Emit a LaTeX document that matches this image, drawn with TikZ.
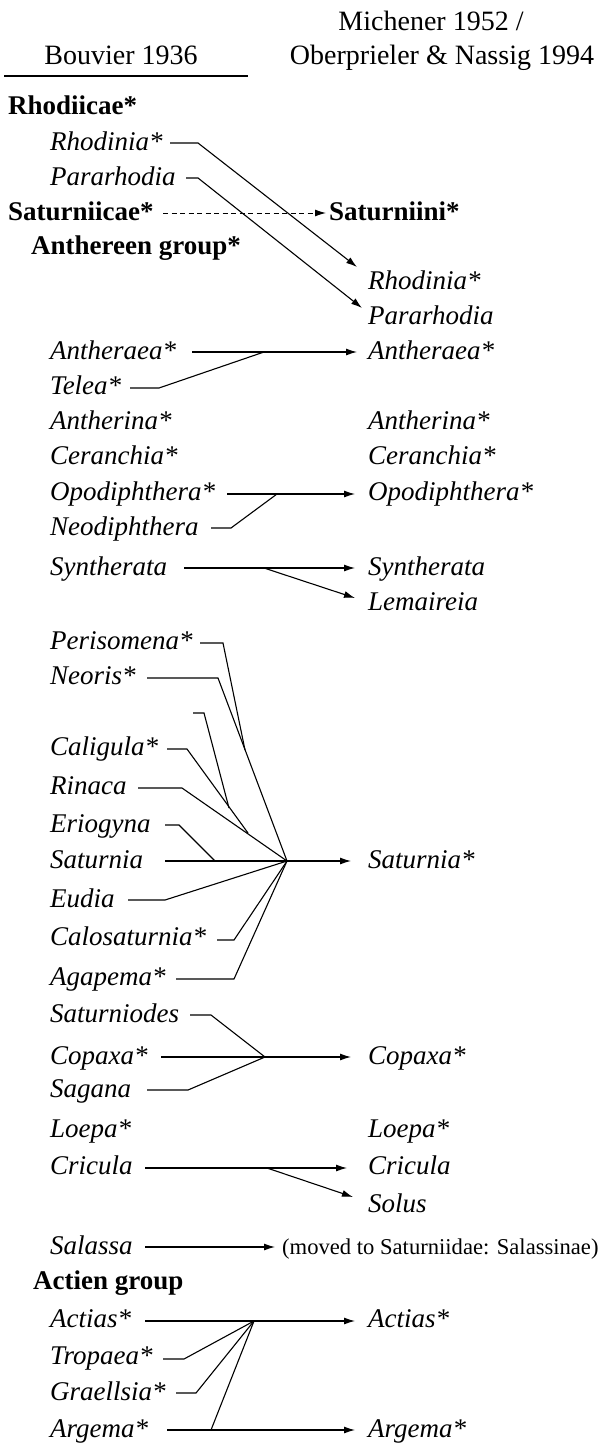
\documentclass[tikz,border=0pt]{standalone}
\usepackage{fontspec}
\setmainfont{Liberation Serif}
\usetikzlibrary{arrows.meta}
\begin{document}
\begin{tikzpicture}[x=1pt,y=-1pt,
  lbl/.style={anchor=base west, inner sep=0pt, font=\fontsize{27}{30}\selectfont\itshape},
  grp/.style={anchor=base west, inner sep=0pt, font=\fontsize{27}{30}\selectfont\bfseries},
  hdr/.style={anchor=base, inner sep=0pt, font=\fontsize{28}{30}\selectfont},
  note/.style={anchor=base west, inner sep=0pt, font=\fontsize{22.6}{26}\selectfont},
  con/.style={line width=1.1pt},
  arr/.style={line width=1.1pt, -{Latex[length=11pt,width=7pt]}},
  dsh/.style={line width=1pt, dash pattern=on 5pt off 3.5pt, -{Latex[length=11pt,width=7pt]}},
]
\useasboundingbox (0,0) rectangle (603,1445);
% headers
\node[hdr] (h1) at (431,31) {Michener 1952 /};
\node[hdr] (h2) at (121,64) {Bouvier 1936};
\node[hdr] (h3) at (442,64) {Oberprieler \& Nassig 1994};
\coordinate (ruleA) at (4,76);
\coordinate (ruleB) at (248,76);
\draw[line width=1.2pt] (ruleA) -- (ruleB);
% left column
\node[grp] (rhodiicae) at (8,114) {Rhodiicae*};
\node[lbl] (rhodL) at (50,150) {Rhodinia*};
\node[lbl] (pararL) at (50,185) {Pararhodia};
\node[grp] (saturniicae) at (8,220) {Saturniicae*};
\node[grp] (anthereen) at (31,254) {Anthereen group*};
\node[lbl] (antheraeaL) at (50,359) {Antheraea*};
\node[lbl] (telea) at (50,394) {Telea*};
\node[lbl] (antherinaL) at (50,429) {Antherina*};
\node[lbl] (ceranchiaL) at (50,464) {Ceranchia*};
\node[lbl] (opoL) at (50,500) {Opodiphthera*};
\node[lbl] (neodi) at (50,535) {Neodiphthera};
\node[lbl] (synL) at (50,575) {Syntherata};
\node[lbl] (perisomena) at (50,649) {Perisomena*};
\node[lbl] (neoris) at (50,684) {Neoris*};
\node[lbl] (caligula) at (50,755) {Caligula*};
\node[lbl] (rinaca) at (50,794) {Rinaca};
\node[lbl] (eriogyna) at (50,832) {Eriogyna};
\node[lbl] (saturniaL) at (50,868) {Saturnia};
\node[lbl] (eudia) at (50,907) {Eudia};
\node[lbl] (calosat) at (50,945) {Calosaturnia*};
\node[lbl] (agapema) at (50,985) {Agapema*};
\node[lbl] (saturniodes) at (50,1022) {Saturniodes};
\node[lbl] (copaxaL) at (50,1064) {Copaxa*};
\node[lbl] (sagana) at (50,1097) {Sagana};
\node[lbl] (loepaL) at (50,1137) {Loepa*};
\node[lbl] (criculaL) at (50,1174) {Cricula};
\node[lbl] (salassa) at (50,1254) {Salassa};
\node[grp] (actien) at (33,1289) {Actien group};
\node[lbl] (actiasL) at (50,1327) {Actias*};
\node[lbl] (tropaea) at (50,1364) {Tropaea*};
\node[lbl] (graellsia) at (50,1400) {Graellsia*};
\node[lbl] (argemaL) at (50,1437) {Argema*};
% right column
\node[grp] (saturniini) at (329,220) {Saturniini*};
\node[lbl] (rhodR) at (368,289) {Rhodinia*};
\node[lbl] (pararR) at (368,324) {Pararhodia};
\node[lbl] (antheraeaR) at (368,359) {Antheraea*};
\node[lbl] (antherinaR) at (368,429) {Antherina*};
\node[lbl] (ceranchiaR) at (368,464) {Ceranchia*};
\node[lbl] (opoR) at (368,500) {Opodiphthera*};
\node[lbl] (synR) at (368,575) {Syntherata};
\node[lbl] (lemaireia) at (368,610) {Lemaireia};
\node[lbl] (saturniaR) at (368,868) {Saturnia*};
\node[lbl] (copaxaR) at (368,1064) {Copaxa*};
\node[lbl] (loepaR) at (368,1137) {Loepa*};
\node[lbl] (criculaR) at (368,1174) {Cricula};
\node[lbl] (solus) at (368,1212) {Solus};
\node[note] (moved) at (282,1254) {(moved to Saturniidae: Salassinae)};
\node[lbl] (actiasR) at (368,1327) {Actias*};
\node[lbl] (argemaR) at (368,1437) {Argema*};
% connector points
\coordinate (rhS) at (170,143); \coordinate (rhK) at (198,143); \coordinate (rhT) at (357,267);
\coordinate (paS) at (186,178); \coordinate (paK) at (198,178); \coordinate (paT) at (362,308);
\coordinate (saS) at (163,213); \coordinate (saT) at (326,213);
\coordinate (anS) at (192,352); \coordinate (anJ) at (264,352); \coordinate (anT) at (357,352);
\coordinate (teS) at (130,388); \coordinate (teK) at (159,388);
\coordinate (opS) at (227,494); \coordinate (opJ) at (277,494); \coordinate (opT) at (355,494);
\coordinate (neS) at (211,528); \coordinate (neK) at (231,528);
\coordinate (syS) at (184,568); \coordinate (syJ) at (264,568); \coordinate (syT) at (355,568); \coordinate (leT) at (355,598);
\coordinate (hub) at (287,861);
\coordinate (stS) at (165,861); \coordinate (stT) at (351,861);
\coordinate (peS) at (200,643); \coordinate (peK) at (223,643); \coordinate (peE) at (245,750);
\coordinate (noS) at (147,678); \coordinate (noK) at (218,678);
\coordinate (sbS) at (193,713); \coordinate (sbK) at (204,713); \coordinate (sbE) at (229,808);
\coordinate (caS) at (167,749); \coordinate (caK) at (187,749); \coordinate (caE) at (248,833);
\coordinate (riS) at (138,788); \coordinate (riK) at (182,788);
\coordinate (erS) at (165,825); \coordinate (erK) at (179,825); \coordinate (erE) at (215,861);
\coordinate (euS) at (128,900); \coordinate (euK) at (165,900);
\coordinate (clS) at (217,940); \coordinate (clK) at (234,940);
\coordinate (agS) at (176,979); \coordinate (agK) at (234,979);
\coordinate (hub2) at (265,1057);
\coordinate (sdS) at (190,1015); \coordinate (sdK) at (211,1015);
\coordinate (cpS) at (161,1057); \coordinate (cpT) at (351,1057);
\coordinate (sgS) at (147,1090); \coordinate (sgK) at (188,1090);
\coordinate (crS) at (145,1168); \coordinate (crJ) at (267,1168); \coordinate (crT) at (347,1168); \coordinate (soT) at (353,1197);
\coordinate (slS) at (145,1247); \coordinate (slT) at (275,1247);
\coordinate (hub3) at (254,1321);
\coordinate (acS) at (145,1321); \coordinate (acT) at (355,1321);
\coordinate (trS) at (163,1359); \coordinate (trK) at (184,1359);
\coordinate (grS) at (176,1393); \coordinate (grK) at (196,1393);
\coordinate (arS) at (167,1430); \coordinate (arJ) at (211,1430); \coordinate (arT) at (355,1430);
% connectors
\draw[arr] (rhS) -- (rhK) -- (rhT);
\draw[arr] (paS) -- (paK) -- (paT);
\draw[dsh] (saS) -- (saT);
\draw[arr] (anS) -- (anT);
\draw[con] (teS) -- (teK) -- (anJ);
\draw[arr] (opS) -- (opT);
\draw[con] (neS) -- (neK) -- (opJ);
\draw[arr] (syS) -- (syT);
\draw[arr] (syJ) -- (leT);
\draw[arr] (stS) -- (stT);
\draw[con] (peS) -- (peK) -- (peE);
\draw[con] (noS) -- (noK) -- (hub);
\draw[con] (sbS) -- (sbK) -- (sbE);
\draw[con] (caS) -- (caK) -- (caE);
\draw[con] (riS) -- (riK) -- (hub);
\draw[con] (erS) -- (erK) -- (erE);
\draw[con] (euS) -- (euK) -- (hub);
\draw[con] (clS) -- (clK) -- (hub);
\draw[con] (agS) -- (agK) -- (hub);
\draw[con] (sdS) -- (sdK) -- (hub2);
\draw[arr] (cpS) -- (cpT);
\draw[con] (sgS) -- (sgK) -- (hub2);
\draw[arr] (crS) -- (crT);
\draw[arr] (crJ) -- (soT);
\draw[arr] (slS) -- (slT);
\draw[arr] (acS) -- (acT);
\draw[con] (trS) -- (trK) -- (hub3);
\draw[con] (grS) -- (grK) -- (hub3);
\draw[arr] (arS) -- (arT);
\draw[con] (arJ) -- (hub3);
\end{tikzpicture}
\end{document}
